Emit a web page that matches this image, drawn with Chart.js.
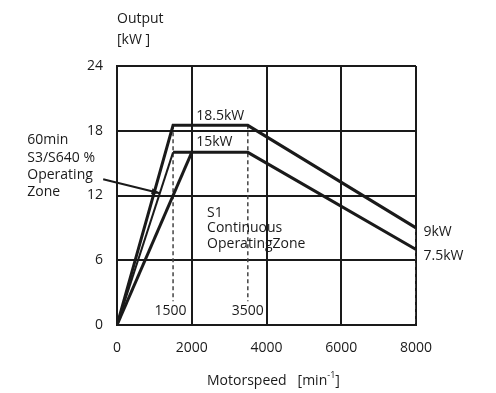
<!DOCTYPE html>
<html>
<head>
<meta charset="utf-8">
<script src="https://cdn.jsdelivr.net/npm/chart.js@4.4.0/dist/chart.umd.min.js"></script>
<style>
  body { margin: 0; background: #fff; }
  #wrap { width: 496px; height: 393px; }
</style>
</head>
<body>
<div id="wrap"><canvas id="myChart" width="496" height="393"></canvas></div>
<script>
// speed [min-1] / output [kW]
const s6Speed = [0, 1500, 3500, 8000];
const s6Output = [0, 18.5, 18.5, 9];
const s1Speed = [0, 1500, 3500, 8000];
const s1Output = [0, 16, 16, 7];
const rampSpeed = [0, 2000];
const rampOutput = [0, 16];
const markSpeed = [1500, 3500, 8000];
const markTop = [18.5, 18.5, 9];
const markBottom = [2.2, 2.2, 0];
const xTicks = [0, 2000, 4000, 6000, 8000];
const yTicks = [0, 6, 12, 18, 24];

const FONT = "'Open Sans', sans-serif";

function pts(xs, ys) {
  return xs.map((x, i) => ({ x: x, y: ys[i] }));
}

const datasets = [
  { data: pts(s6Speed, s6Output), borderColor: '#1a1a1a', borderWidth: 3 },
  { data: pts(s1Speed, s1Output), borderColor: '#1a1a1a', borderWidth: 3,
    segment: { borderWidth: c => c.p0DataIndex === 0 ? 2 : 3 } },
  { data: pts(rampSpeed, rampOutput), borderColor: '#1a1a1a', borderWidth: 3 },
];
markSpeed.forEach((s, i) => {
  datasets.push({
    data: [{ x: s, y: markTop[i] }, { x: s, y: markBottom[i] }],
    borderColor: '#444', borderWidth: 1.5, borderDash: [4, 3]
  });
});

// texts placed in data units
const notes = [
  { t: '18.5kW', x: 2120, y: 19.35, align: 'left' },
  { t: '15kW', x: 2120, y: 16.95, align: 'left' },
  { t: 'S1', x: 2410, y: 10.4, align: 'left' },
  { t: 'Continuous', x: 2410, y: 9.0, align: 'left' },
  { t: 'OperatingZone', x: 2410, y: 7.5, align: 'left' },
  { t: '9kW', x: 8200, y: 8.6, align: 'left' },
  { t: '7.5kW', x: 8200, y: 6.4, align: 'left' },
  { t: '1500', x: 1430, y: 1.25, align: 'center' },
  { t: '3500', x: 3500, y: 1.25, align: 'center' },
  { t: '60min', x: -2400, y: 17.1, align: 'left' },
  { t: 'S3/S640 %', x: -2400, y: 15.5, align: 'left' },
  { t: 'Operating', x: -2400, y: 13.9, align: 'left' },
  { t: 'Zone', x: -2400, y: 12.3, align: 'left' },
];
const arrow = { x0: -370, y0: 13.5, x1: 1150, y1: 12.2 };

const textPlugin = {
  id: 'texts',
  afterDraw(chart) {
    const c = chart.ctx;
    const xs = chart.scales.x, ys = chart.scales.y;
    c.save();
    c.fillStyle = '#1a1a1a';
    c.font = '14px ' + FONT;
    c.textBaseline = 'middle';
    notes.forEach(n => {
      c.textAlign = n.align;
      c.fillText(n.t, xs.getPixelForValue(n.x), ys.getPixelForValue(n.y));
    });

    // arrow
    const ax0 = xs.getPixelForValue(arrow.x0), ay0 = ys.getPixelForValue(arrow.y0);
    const ax1 = xs.getPixelForValue(arrow.x1), ay1 = ys.getPixelForValue(arrow.y1);
    c.strokeStyle = '#1a1a1a';
    c.lineWidth = 2;
    c.beginPath();
    c.moveTo(ax0, ay0);
    c.lineTo(ax1, ay1);
    c.stroke();
    const ang = Math.atan2(ay1 - ay0, ax1 - ax0);
    c.beginPath();
    c.moveTo(ax1, ay1);
    c.lineTo(ax1 - 9 * Math.cos(ang - 0.35), ay1 - 9 * Math.sin(ang - 0.35));
    c.lineTo(ax1 - 9 * Math.cos(ang + 0.35), ay1 - 9 * Math.sin(ang + 0.35));
    c.closePath();
    c.fill();

    // axis titles
    c.textAlign = 'left';
    c.fillText('Output', 117, 19);
    c.fillText('[kW ]', 117, 40);
    const main = 'Motorspeed   [min';
    let x = 207;
    c.fillText(main, x, 381);
    x += c.measureText(main).width;
    c.font = '9px ' + FONT;
    c.fillText('-1', x, 375);
    x += c.measureText('-1').width;
    c.font = '14px ' + FONT;
    c.fillText(']', x, 381);
    c.restore();
  }
};

const ctx = document.getElementById('myChart').getContext('2d');
const myChart = new Chart(ctx, {
  type: 'scatter',
  data: { datasets: datasets },
  options: {
    responsive: false,
    animation: false,
    showLine: true,
    elements: { point: { radius: 0 }, line: { tension: 0 } },
    layout: { padding: { top: 66, right: 80, left: 0, bottom: 0 } },
    plugins: { legend: { display: false }, tooltip: { enabled: false } },
    scales: {
      x: {
        type: 'linear', min: 0, max: 8000,
        afterBuildTicks: s => { s.ticks = xTicks.map(v => ({ value: v })); },
        afterFit: s => { s.height = 68; },
        ticks: { color: '#1a1a1a', font: { family: FONT, size: 14 }, padding: 15, maxRotation: 0,
                 callback: v => String(v) },
        grid: { color: '#1a1a1a', lineWidth: 2, drawTicks: false },
        border: { color: '#1a1a1a', width: 2 }
      },
      y: {
        type: 'linear', min: 0, max: 24,
        afterBuildTicks: s => { s.ticks = yTicks.map(v => ({ value: v })); },
        afterFit: s => { s.width = 117; },
        ticks: { color: '#1a1a1a', font: { family: FONT, size: 14 }, padding: 14 },
        grid: { color: '#1a1a1a', lineWidth: 2, drawTicks: false },
        border: { color: '#1a1a1a', width: 2 }
      }
    }
  },
  plugins: [textPlugin]
});
</script>
</body>
</html>
